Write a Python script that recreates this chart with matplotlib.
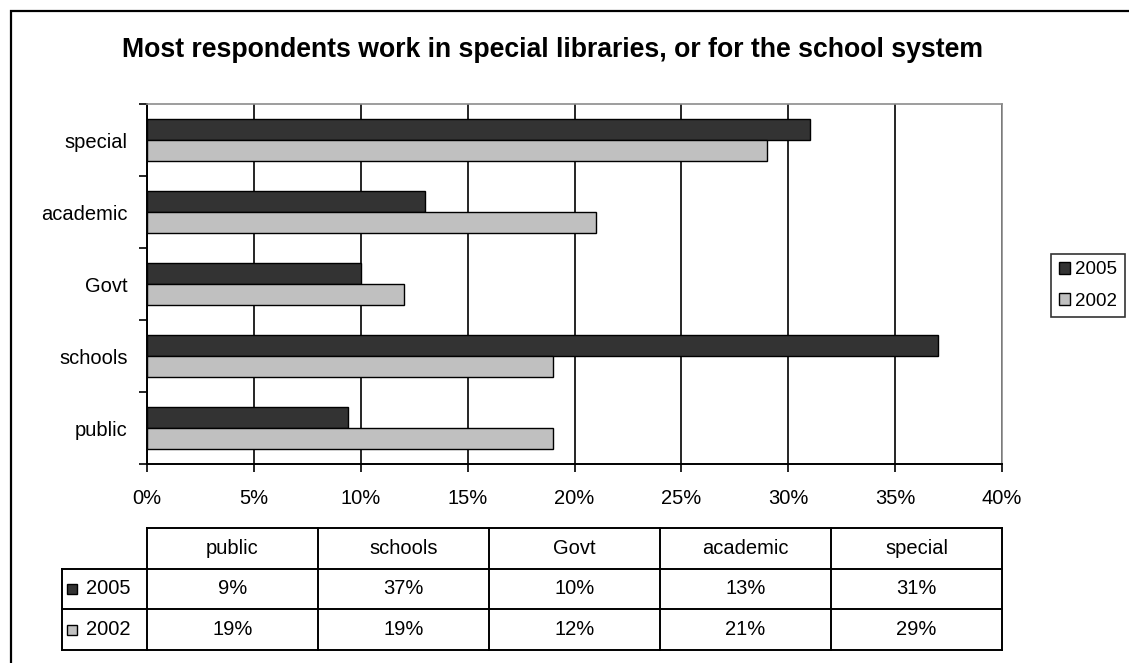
import matplotlib
matplotlib.use("Agg")
import matplotlib.pyplot as plt
from matplotlib.patches import Rectangle
import numpy as np

plt.rcParams['font.family'] = ['Liberation Sans', 'DejaVu Sans']

categories = ["public", "schools", "Govt", "academic", "special"]
series_names = ["2005", "2002"]
values_2005 = [9.4, 37, 10, 13, 31]
values_2002 = [19, 19, 12, 21, 29]
x_ticks = [0, 5, 10, 15, 20, 25, 30, 35, 40]
title = "Most respondents work in special libraries, or for the school system"

dark = "#333333"
light = "#c0c0c0"
fs = 14.5

W, H = 1129, 663
fig = plt.figure(figsize=(W / 100, H / 100), dpi=100)

def fx(px):
    return px / W

def fy(py):
    return 1 - py / H

# outer chart border
fig.patches.append(Rectangle((fx(11), fy(700)), fx(1200 - 11), fy(11) - fy(700),
                             transform=fig.transFigure, fill=False,
                             edgecolor="black", lw=1.6))

fig.text(fx(553), fy(50), title, ha="center", va="center",
         fontsize=19.2, fontweight="bold")

# bar chart
ax = fig.add_axes([fx(147), fy(464), fx(1002 - 147), fy(104) - fy(464)])
y = np.arange(len(categories))
bh = 0.285
ax.barh(y + bh / 2, values_2005, height=bh, color=dark, edgecolor="black",
        lw=1, label=series_names[0], zorder=3)
ax.barh(y - bh / 2, values_2002, height=bh, color=light, edgecolor="black",
        lw=1, label=series_names[1], zorder=3)
ax.set_xlim(0, 40)
ax.set_ylim(-0.5, len(categories) - 0.5)
ax.set_xticks(x_ticks)
ax.set_xticklabels([f"{v}%" for v in x_ticks], fontsize=fs)
ax.set_yticks(np.arange(-0.5, len(categories), 1.0))
ax.set_yticklabels([])
ax.set_yticks(y, minor=True)
ax.set_yticklabels(categories, minor=True, fontsize=fs)
ax.tick_params(axis="y", which="major", length=6, width=1.2, direction="out")
ax.tick_params(axis="y", which="minor", length=0, pad=14)
ax.tick_params(axis="x", length=6, width=1.2, direction="out", pad=12)
ax.grid(axis="x", color="black", lw=1.2, zorder=0)
for s in ["left", "bottom"]:
    ax.spines[s].set_linewidth(1.4)
for s in ["top", "right"]:
    ax.spines[s].set_color("#8c8c8c")
    ax.spines[s].set_linewidth(1.2)

leg = fig.legend(loc="upper left", bbox_to_anchor=(fx(1051), fy(254)),
                 bbox_transform=fig.transFigure, frameon=True, fancybox=False,
                 fontsize=13.5, handlelength=0.6, handleheight=0.6,
                 handletextpad=0.3, borderpad=0.4, labelspacing=0.75,
                 borderaxespad=0)
leg.get_frame().set_edgecolor("black")
leg.get_frame().set_linewidth(1.2)

# data table under the chart
tab = fig.add_axes([fx(62), fy(650), fx(1002 - 62), fy(528) - fy(650)])
lab_w = (147 - 62) / 171
tab.set_xlim(-lab_w, len(categories))
tab.set_ylim(3, 0)
tab.axis("off")
lw = 1.4
# horizontal lines
tab.plot([0, len(categories)], [0, 0], color="black", lw=lw, clip_on=False)
for r in (1, 2, 3):
    tab.plot([-lab_w, len(categories)], [r, r], color="black", lw=lw, clip_on=False)
# vertical lines
tab.plot([-lab_w, -lab_w], [1, 3], color="black", lw=lw, clip_on=False)
for c in range(len(categories) + 1):
    tab.plot([c, c], [0, 3], color="black", lw=lw, clip_on=False)
for i, cat in enumerate(categories):
    tab.text(i + 0.5, 0.5, cat, ha="center", va="center", fontsize=fs)
    tab.text(i + 0.5, 1.5, f"{values_2005[i]:.0f}%", ha="center", va="center", fontsize=fs)
    tab.text(i + 0.5, 2.5, f"{values_2002[i]:.0f}%", ha="center", va="center", fontsize=fs)
for r, (name, col) in enumerate(zip(series_names, [dark, light])):
    sq = 10 / 171
    sqh = 10 / 41
    tab.add_patch(Rectangle((-lab_w + 5 / 171, 1.5 + r - sqh / 2), sq, sqh,
                            facecolor=col, edgecolor="black", lw=1, clip_on=False))
    tab.text(-lab_w + 24 / 171, 1.5 + r, name, ha="left", va="center", fontsize=fs)

fig.savefig("out.png", dpi=100)
